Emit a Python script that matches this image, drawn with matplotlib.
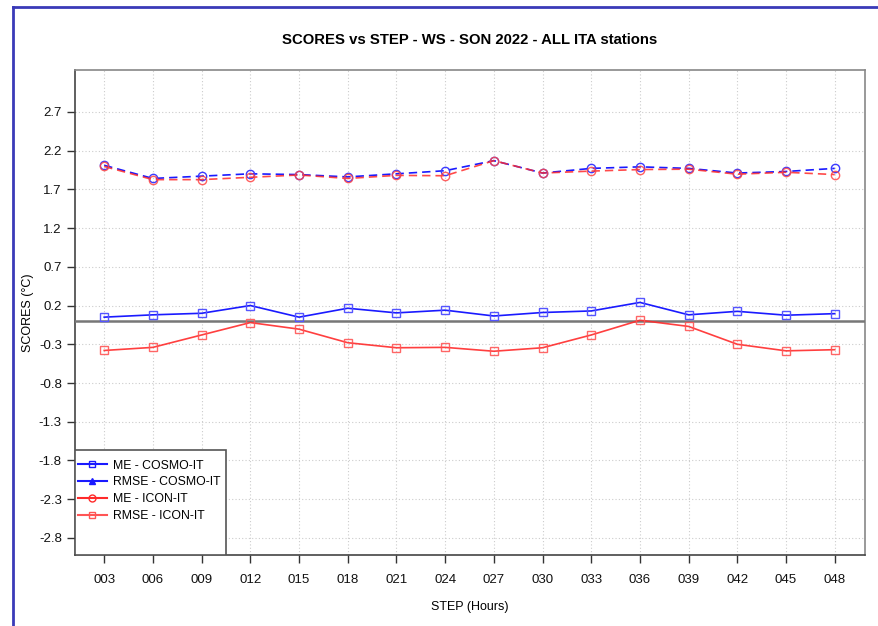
import numpy as np
import matplotlib.pyplot as plt
from matplotlib.lines import Line2D
from matplotlib.patches import Rectangle

plt.rcParams['font.family'] = ['Liberation Sans', 'DejaVu Sans']

steps = ["003", "006", "009", "012", "015", "018", "021", "024",
         "027", "030", "033", "036", "039", "042", "045", "048"]

me_cosmo = [0.05, 0.08, 0.10, 0.20, 0.05, 0.165, 0.105, 0.14,
            0.065, 0.11, 0.13, 0.24, 0.08, 0.125, 0.075, 0.095]
rmse_cosmo = [2.01, 1.84, 1.87, 1.90, 1.89, 1.86, 1.90, 1.94,
              2.07, 1.91, 1.97, 1.99, 1.97, 1.91, 1.93, 1.97]
me_icon = [-0.38, -0.34, -0.18, -0.02, -0.105, -0.28, -0.345, -0.34,
           -0.39, -0.345, -0.18, 0.01, -0.07, -0.30, -0.385, -0.37]
rmse_icon = [1.995, 1.825, 1.825, 1.855, 1.885, 1.84, 1.88, 1.875,
             2.07, 1.91, 1.935, 1.955, 1.96, 1.895, 1.92, 1.89]

yticks = [2.7, 2.2, 1.7, 1.2, 0.7, 0.2, -0.3, -0.8, -1.3, -1.8, -2.3, -2.8]

x = np.arange(len(steps))

fig = plt.figure(figsize=(8.79, 6.26), dpi=100)
ax = fig.add_axes([0.0853, 0.1134, 0.8987, 0.7748])

blue = "#1a1aff"
red = "#ff2a2a"
ax.plot(x, rmse_cosmo, color=blue, ls=(0, (5, 3)), lw=1.2, marker="o",
        mfc="none", mec="#3b3bff", ms=6, zorder=4)
ax.plot(x, rmse_icon, color=red, ls=(0, (5, 3)), lw=1.2, marker="o",
        mfc="none", mec="#ff4444", ms=6, alpha=0.85, zorder=4)
ax.plot(x, me_cosmo, color=blue, lw=1.2, marker="s", mfc="none",
        mec="#5555ff", ms=6, zorder=4)
ax.plot(x, me_icon, color=red, lw=1.2, marker="s", mfc="none",
        mec="#ff5555", ms=6, alpha=0.9, zorder=4)

ax.axhline(0, color="#777777", lw=1.8, zorder=3)

ax.set_xlim(-0.6, 15.62)
ax.set_ylim(-3.02, 3.24)
ax.set_xticks(x)
ax.set_xticklabels(steps)
ax.set_yticks(yticks)
ax.set_yticklabels([f"{v:.1f}" for v in yticks])
ax.tick_params(axis="both", direction="out", length=6, width=1,
               color="#333333", labelsize=9.5, labelcolor="#111111")
ax.tick_params(axis="x", pad=8)
ax.grid(True, color="#cccccc", ls=(0, (1, 2)), lw=0.8)
for side in ax.spines.values():
    side.set_color("#888888")
    side.set_linewidth(1.2)
ax.spines["left"].set_color("#444444")
ax.spines["bottom"].set_color("#444444")

ax.set_title("SCORES vs STEP - WS - SON 2022 - ALL ITA stations",
             fontsize=10.7, fontweight="bold", pad=19)
ax.set_xlabel("STEP (Hours)", fontsize=9)
ax.set_ylabel("SCORES (°C)", fontsize=9)
ax.xaxis.set_label_coords(0.5, -0.0948)
ax.yaxis.set_label_coords(-0.052, 0.5)

# legend box, taller than its entries
ax.add_patch(Rectangle((0, 0), 0.191, 0.2165, transform=ax.transAxes,
                       facecolor="white", edgecolor="#555555", lw=1.2,
                       zorder=5))
handles = [
    Line2D([], [], color=blue, marker="s", mfc="none", ms=5),
    Line2D([], [], color=blue, marker="^", ms=5),
    Line2D([], [], color=red, marker="o", mfc="none", ms=5),
    Line2D([], [], color="#ff5555", marker="s", mfc="none", ms=5),
]
labels = ["ME - COSMO-IT", "RMSE - COSMO-IT", "ME - ICON-IT", "RMSE - ICON-IT"]
leg = ax.legend(handles, labels, loc="upper left",
                bbox_to_anchor=(-0.006, 0.212), frameon=False, fontsize=8.8,
                handlelength=2.4, handletextpad=0.5, labelspacing=0.4,
                borderaxespad=0.2)
leg.set_zorder(6)

# blue screenshot frame
fig.add_artist(Line2D([13 / 879, 13 / 879], [0, 1 - 7 / 626],
                      color="#3a3ab8", lw=2, transform=fig.transFigure))
fig.add_artist(Line2D([13 / 879, 1], [1 - 7 / 626, 1 - 7 / 626],
                      color="#3a3ab8", lw=2, transform=fig.transFigure))

fig.savefig("out.png", dpi=100)
